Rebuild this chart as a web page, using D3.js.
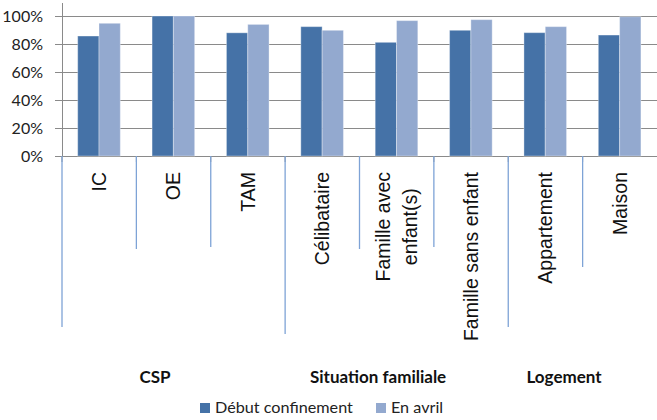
<!DOCTYPE html>
<html><head><meta charset="utf-8">
<script src="https://cdn.jsdelivr.net/npm/d3@7/dist/d3.min.js"></script>
<style>body{margin:0;background:#fff}svg{display:block}</style>
</head><body><svg id="c" width="657" height="420"></svg>
<script>
const categories = [["IC"],["OE"],["TAM"],["Célibataire"],["Famille avec","enfant(s)"],["Famille sans enfant"],["Appartement"],["Maison"]];
const seriesNames = ["Début confinement","En avril"];
const debutConfinement = [85.7, 100, 88, 92.4, 81.2, 89.8, 88.1, 86.4];
const enAvril = [94.8, 100, 94, 89.8, 96.7, 97.4, 92.4, 99.5];
const groups = [{name:"CSP", from:0, to:3},{name:"Situation familiale", from:3, to:6},{name:"Logement", from:6, to:8}];
const yTicks = [0,20,40,60,80,100];
const colors = ["#4572a7","#93a9cf"];

// layout constants (not data)
const L = {left:62, right:657, top:16, bottom:156, axisTop:3};
const dividerBottom = [327,249,247,334,249,247,327,267];

const svg = d3.select("#c");
const keys = categories.map(c=>c.join(" "));
const x0 = d3.scaleBand().domain(keys).range([L.left, L.right]).paddingInner(0).paddingOuter(0);
const bw = x0.bandwidth();
const x1 = d3.scaleBand().domain(seriesNames).range([bw*0.211, bw*0.784]);
const y = d3.scaleLinear().domain([0,100]).range([L.bottom, L.top]);

// gridlines
svg.append("g").selectAll("line").data(yTicks).join("line")
  .attr("x1", L.left-7).attr("x2", L.right).attr("y1", d=>y(d)).attr("y2", d=>y(d))
  .attr("stroke","#8a8a8a").attr("stroke-width",1).attr("shape-rendering","crispEdges");
// y axis line
svg.append("line").attr("x1",L.left).attr("x2",L.left).attr("y1",L.axisTop).attr("y2",L.bottom)
  .attr("stroke","#8a8a8a").attr("shape-rendering","crispEdges");
// y labels
svg.append("g").selectAll("text").data(yTicks).join("text")
  .attr("x", 43).attr("y", d=>y(d)).attr("dy","0.35em").attr("text-anchor","end")
  .attr("font-family","Lato, 'Liberation Sans', sans-serif").attr("font-size",16).attr("fill","#222")
  .text(d=>d+"%");

// bars
const series = [debutConfinement, enAvril];
const bars = [];
series.forEach((s,si)=>s.forEach((v,ci)=>bars.push({c:keys[ci], s:seriesNames[si], v, si})));
svg.append("g").selectAll("rect").data(bars).join("rect")
  .attr("x", d=>x0(d.c)+x1(d.s)).attr("width", x1.bandwidth())
  .attr("y", d=>y(d.v)).attr("height", d=>y(0)-y(d.v))
  .attr("fill", d=>colors[d.si]).attr("stroke","rgba(255,255,255,0.35)").attr("stroke-width",1);

// dividers
const divX = keys.map(k=>x0(k));
svg.append("g").selectAll("line.g").data(divX).join("line")
  .attr("x1",d=>d).attr("x2",d=>d).attr("y1",L.bottom).attr("y2",L.bottom+6)
  .attr("stroke","#8a8a8a");
svg.append("g").selectAll("line.b").data(divX).join("line")
  .attr("x1",d=>d).attr("x2",d=>d).attr("y1",L.bottom).attr("y2",(d,i)=>dividerBottom[i])
  .attr("stroke","#7ea3d6").attr("stroke-width",1.3);

// category labels rotated
const labelTop = 172, lineGap = 27, fs = 19.5;
categories.forEach((lines,i)=>{
  const cx = x0(keys[i]) + bw/2;
  const g = svg.append("g");
  const texts = lines.map((t,li)=>g.append("text").text(t)
    .attr("font-family","Arial, 'Liberation Sans', sans-serif").attr("font-size",fs).attr("fill","#111"));
  const maxLen = d3.max(texts, t=>t.node().getComputedTextLength());
  const n = lines.length;
  texts.forEach((t,li)=>{
    const lx = cx + (li-(n-1)/2)*lineGap;
    const ly = labelTop + maxLen/2;
    t.attr("text-anchor","middle").attr("dy","0.35em")
     .attr("transform",`translate(${lx},${ly}) rotate(-90)`);
  });
});

// group labels
svg.append("g").selectAll("text").data(groups).join("text")
  .attr("x", d=>(x0(keys[d.from]) + (d.to<keys.length ? x0(keys[d.to]) : L.right))/2 - bw*0.25)
  .attr("y", 383).attr("text-anchor","middle")
  .attr("font-family","Lato, 'Liberation Sans', sans-serif").attr("font-weight","bold").attr("font-size",17).attr("fill","#111")
  .text(d=>d.name);

// legend
const leg = svg.append("g");
const legX = [200, 376];
seriesNames.forEach((n,i)=>{
  leg.append("rect").attr("x",legX[i]).attr("y",403).attr("width",10).attr("height",10).attr("fill",colors[i]);
  leg.append("text").attr("x",legX[i]+15).attr("y",413).text(n)
    .attr("font-family","Lato, 'Liberation Sans', sans-serif").attr("font-size",16.2).attr("fill","#222");
});
</script></body></html>
